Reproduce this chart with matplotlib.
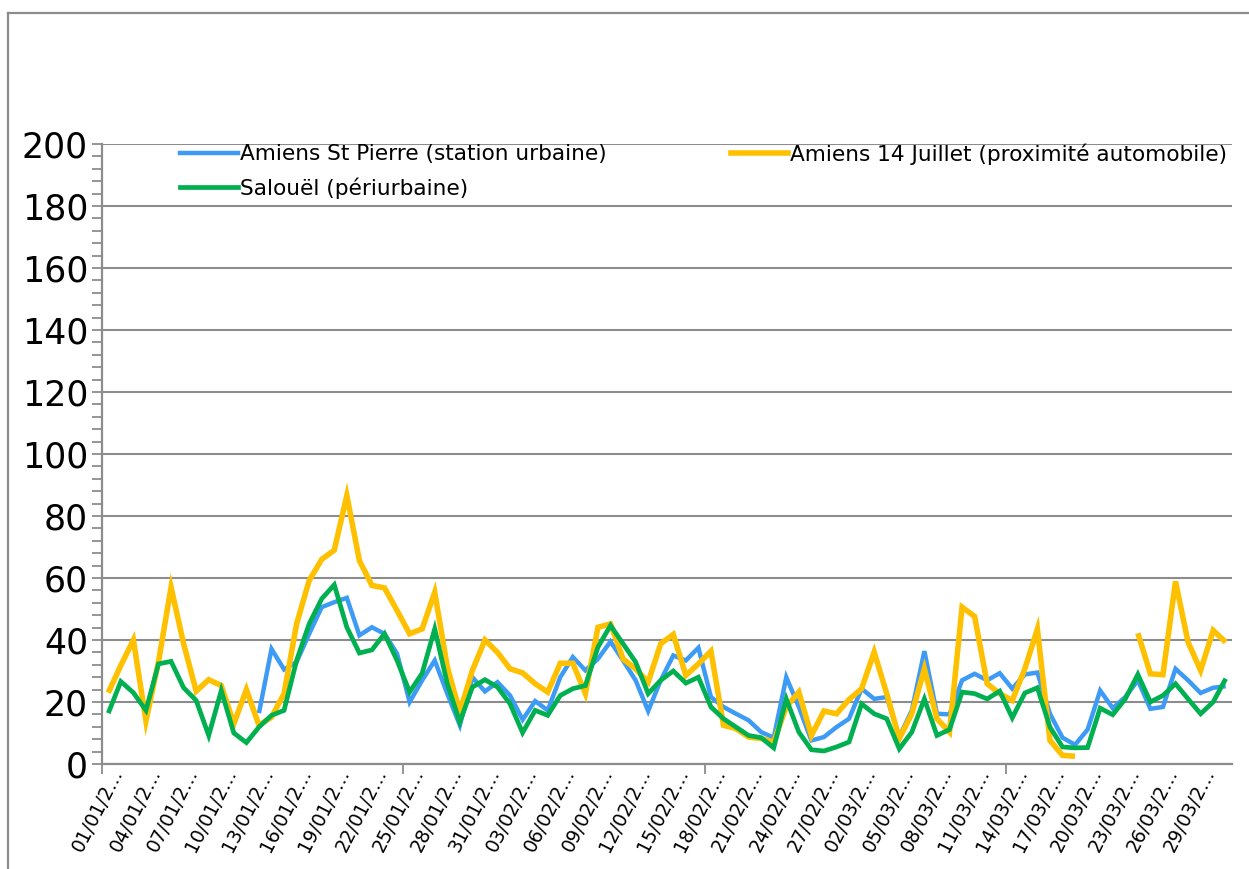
import matplotlib
matplotlib.use("Agg")
import matplotlib.pyplot as plt
import numpy as np
from matplotlib.lines import Line2D
from matplotlib.ticker import MultipleLocator, FixedLocator, NullFormatter
from matplotlib.transforms import ScaledTranslation

nan = np.nan

# ---- data -------------------------------------------------------------
tick_labels = ["01/01/2…", "04/01/2…", "07/01/2…", "10/01/2…", "13/01/2…",
               "16/01/2…", "19/01/2…", "22/01/2…", "25/01/2…", "28/01/2…",
               "31/01/2…", "03/02/2…", "06/02/2…", "09/02/2…", "12/02/2…",
               "15/02/2…", "18/02/2…", "21/02/2…", "24/02/2…", "27/02/2…",
               "02/03/2…", "05/03/2…", "08/03/2…", "11/03/2…", "14/03/2…",
               "17/03/2…", "20/03/2…", "23/03/2…", "26/03/2…", "29/03/2…"]

st_pierre = [nan, nan, nan, nan, nan, nan, nan, nan, nan, nan, nan, nan,
             16.4, 37.1, 30.5, 32.9, 42.0, 50.6, 52.2, 53.6, 41.5, 44.1,
             42.0, 35.6, 20.0, 27.0, 33.4, 22.7, 12.5, 28.0, 23.4, 26.4,
             22.1, 14.3, 20.3, 17.3, 28.0, 34.5, 30.2, 33.9, 39.5, 33.4,
             27.0, 17.1, 27.0, 35.0, 33.4, 37.5, 21.6, 18.4, 16.2, 14.1,
             10.3, 8.5, 28.0, 18.4, 7.6, 8.7, 11.9, 14.6, 24.3, 21.0,
             21.6, 8.7, 17.3, 36.4, 16.2, 16.0, 27.0, 29.1, 27.0, 29.3,
             24.3, 28.9, 29.5, 16.2, 8.5, 6.2, 11.1, 23.7, 18.0, 21.6,
             27.0, 17.8, 18.4, 30.7, 27.0, 22.9, 24.6, 25.1]

juillet = [23.0, 31.8, 40.0, 13.9, 33.0, 57.0, 38.8, 23.5, 27.2, 25.3,
           13.0, 24.0, 12.5, 15.1, 22.7, 45.2, 59.2, 66.0, 69.0, 86.6,
           65.6, 57.6, 56.8, 49.5, 42.0, 43.6, 55.4, 31.3, 16.8, 30.2,
           40.0, 36.0, 30.7, 29.4, 25.9, 23.2, 32.5, 32.5, 22.7, 44.1,
           45.2, 33.9, 30.7, 26.4, 38.8, 41.8, 28.6, 32.3, 36.4, 12.5,
           11.4, 8.7, 8.2, 7.1, 18.4, 23.2, 9.2, 17.1, 16.2, 20.8,
           24.3, 36.1, 22.7, 8.2, 16.2, 30.7, 14.6, 10.3, 50.6, 47.6,
           25.9, 22.7, 20.5, 30.7, 43.5, 7.6, 2.8, 2.5, nan, nan,
           nan, nan, 42.2, 29.1, 28.8, 58.9, 39.3, 30.2, 43.1, 39.3]

salouel = [16.4, 26.6, 23.0, 17.3, 32.3, 33.1, 24.6, 20.5, 9.2, 23.7,
           10.0, 6.9, 11.9, 15.7, 17.3, 33.4, 45.2, 53.3, 57.8, 44.1,
           35.8, 36.8, 42.0, 33.4, 23.2, 29.3, 43.6, 25.9, 13.5, 24.8,
           27.2, 24.8, 19.4, 10.1, 17.3, 15.7, 22.1, 24.3, 25.3, 37.7,
           44.7, 38.8, 32.9, 22.7, 27.0, 30.0, 26.1, 28.0, 18.4, 14.6,
           11.9, 9.2, 8.5, 5.2, 21.0, 10.3, 4.6, 4.2, 5.5, 7.1,
           19.4, 16.2, 14.6, 4.9, 10.3, 21.0, 9.2, 11.1, 23.2, 22.7,
           21.0, 23.5, 14.9, 22.9, 24.6, 11.9, 5.5, 5.2, 5.3, 18.0,
           15.9, 21.0, 28.9, 20.0, 22.1, 25.9, 21.0, 16.2, 20.0, 27.5]

series_names = ["Amiens St Pierre (station urbaine)",
                "Amiens 14 Juillet (proximité automobile)",
                "Salouël (périurbaine)"]
colors = ["#3D9BF5", "#FFC000", "#00B050"]
widths = [3.2, 4.0, 3.4]

# ---- figure -----------------------------------------------------------
W, H = 1249, 869
fig = plt.figure(figsize=(W / 100, H / 100), dpi=100)
fig.patch.set_facecolor("white")
plt.rcParams['font.family'] = ['DejaVu Sans']

def fx(px):
    return px / W

def fy(py):
    return 1 - py / H

# chart border (left and top visible)
fig.add_artist(Line2D([fx(8), fx(8)], [fy(13), 0], color="#8C8C8C", lw=1.6,
                      transform=fig.transFigure))
fig.add_artist(Line2D([fx(8), 1], [fy(13), fy(13)], color="#8C8C8C", lw=1.6,
                      transform=fig.transFigure))

left, right, top, bottom = 102, 1232, 144, 764
ax = fig.add_axes([fx(left), fy(bottom), fx(right - left), (bottom - top) / H])

n = len(salouel)
x = np.arange(n) + 0.5
for vals, c, lw in zip([st_pierre, juillet, salouel], colors, widths):
    ax.plot(x, vals, color=c, lw=lw, solid_joinstyle="miter",
            solid_capstyle="butt")

ax.set_xlim(0, n)
ax.set_ylim(0, 200)

grid_c = "#8C8C8C"
ax.yaxis.set_major_locator(MultipleLocator(20))
ax.yaxis.set_minor_locator(MultipleLocator(4))
ax.grid(axis="y", which="major", color=grid_c, lw=1.5)
ax.set_axisbelow(True)
for s in ["top", "right"]:
    ax.spines[s].set_visible(False)
for s in ["left", "bottom"]:
    ax.spines[s].set_color(grid_c)
    ax.spines[s].set_linewidth(1.6)

ax.tick_params(axis="y", which="both", direction="out", length=7,
               width=1.3, color=grid_c, labelsize=25, pad=3)

# x: major tick marks at category boundaries every 24, labels every 3
ax.xaxis.set_major_locator(FixedLocator([0, 24, 48, 72]))
ax.xaxis.set_major_formatter(NullFormatter())
ax.tick_params(axis="x", which="major", direction="out", length=7,
               width=1.3, color=grid_c)
label_pos = np.arange(0, n, 3) + 0.5
ax.xaxis.set_minor_locator(FixedLocator(label_pos))
ax.set_xticklabels(tick_labels, minor=True)
ax.tick_params(axis="x", which="minor", length=0, labelsize=13.5, pad=0)
off = ScaledTranslation(10 / 100, -6 / 100, fig.dpi_scale_trans)
for lab in ax.get_xticklabels(minor=True):
    lab.set_rotation(63)
    lab.set_rotation_mode("anchor")
    lab.set_ha("right")
    lab.set_va("center")
    lab.set_transform(lab.get_transform() + off)

# ---- legend (manual, as in the Excel layout) --------------------------
leg_fs = 15.6
entries = [(180, 238, 240, 153, 0), (731, 788, 790, 153, 1), (180, 238, 240, 187, 2)]
for x0, x1, xt, yy, k in entries:
    fig.add_artist(Line2D([fx(x0), fx(x1)], [fy(yy), fy(yy)], color=colors[k],
                          lw=widths[k], transform=fig.transFigure))
    fig.text(fx(xt), fy(yy + 1), series_names[k], fontsize=leg_fs,
             ha="left", va="center", color="black")

fig.savefig("out.png", dpi=100, facecolor="white")
